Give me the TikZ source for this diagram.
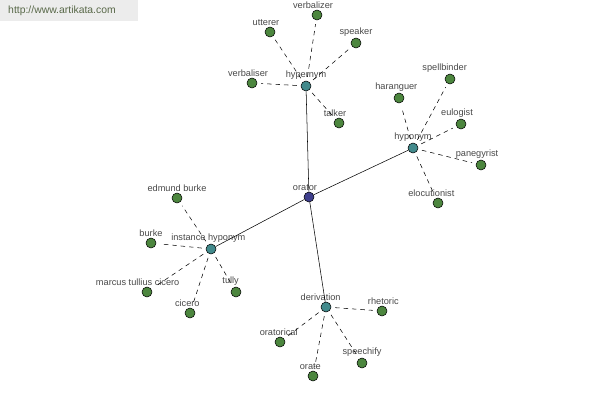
\documentclass[tikz,border=0pt]{standalone}
\usepackage{fontspec}
\setmainfont{Liberation Sans}
\usetikzlibrary{positioning}
\definecolor{hubblue}{RGB}{62,62,140}
\definecolor{midteal}{RGB}{66,138,140}
\definecolor{leafgreen}{RGB}{76,134,62}
\definecolor{lbltext}{RGB}{72,72,72}
\definecolor{urltext}{RGB}{88,104,72}
\definecolor{urlback}{RGB}{236,236,236}
\tikzset{
  word/.style={
    circle,
    draw=black, thin,
    inner sep=0pt,
    minimum size=7.5pt},
  rootword/.style={word, fill=hubblue},
  relword/.style={word, fill=midteal},
  leafword/.style={word, fill=leafgreen},
  lbl/.style={font=\fontsize{6.9}{8}\selectfont, text=lbltext, inner sep=1pt},
  rel/.style={draw, thin},
  syn/.style={draw, thin, dash pattern=on 3.3pt off 3pt, shorten >=3pt, shorten <=3pt},
}

\begin{document}
\begin{tikzpicture}[x=0.75pt, y=-0.75pt]
  \useasboundingbox (0,0) rectangle (600,400);
  % site banner
  \fill[urlback] (0,0) rectangle (138,21);
  \node[font=\fontsize{7.8}{9}\selectfont, text=urltext] (url) at (62,11) {http://www.artikata.com};
  % hub and relation nodes
  \node[rootword, label={[lbl,xshift=-3pt]above:orator}] (orator) at (309,197) {};
  \node[relword, label={[lbl]above:hypernym}] (hypernym) at (306,86) {};
  \node[relword, label={[lbl]above:hyponym}] (hyponym) at (413,148) {};
  \node[relword, label={[lbl,xshift=-2pt]above:instance hyponym}] (instance) at (211,249) {};
  \node[relword, label={[lbl,xshift=-4pt]above:derivation}] (derivation) at (326,307) {};
  % leaves
  \foreach \name/\x/\y/\txt/\dx in {
      verbalizer/317/15/verbalizer/-3pt,
      speaker/356/43/speaker/0pt,
      utterer/270/32/utterer/-3pt,
      verbaliser/252/83/verbaliser/-3pt,
      talker/339/123/talker/-3pt,
      haranguer/399/98/haranguer/-2pt,
      spellbinder/450/79/spellbinder/-4pt,
      eulogist/461/124/eulogist/-3pt,
      panegyrist/481/165/panegyrist/-3pt,
      elocutionist/438/203/elocutionist/-5pt,
      edmund/177/198/edmund burke/0pt,
      burke/151/243/burke/0pt,
      marcus/147/292/marcus tullius cicero/-7pt,
      cicero/190/313/cicero/-2pt,
      tully/236/292/tully/-4pt,
      rhetoric/382/311/rhetoric/1pt,
      oratorical/280/342/oratorical/-1pt,
      orate/313/376/orate/-2pt,
      speechify/362/363/speechify/0pt}
    \node[leafword, label={[lbl,xshift=\dx]above:\txt}] (\name) at (\x,\y) {};
  % relations
  \foreach \r in {hypernym, hyponym, instance, derivation}
    \draw[rel] (orator) -- (\r);
  \foreach \r/\w in {
      hypernym/verbalizer, hypernym/speaker, hypernym/utterer,
      hypernym/verbaliser, hypernym/talker,
      hyponym/haranguer, hyponym/spellbinder, hyponym/eulogist,
      hyponym/panegyrist, hyponym/elocutionist,
      instance/edmund, instance/burke, instance/marcus,
      instance/cicero, instance/tully,
      derivation/rhetoric, derivation/oratorical,
      derivation/orate, derivation/speechify}
    \draw[syn] (\r) -- (\w);
\end{tikzpicture}
\end{document}
